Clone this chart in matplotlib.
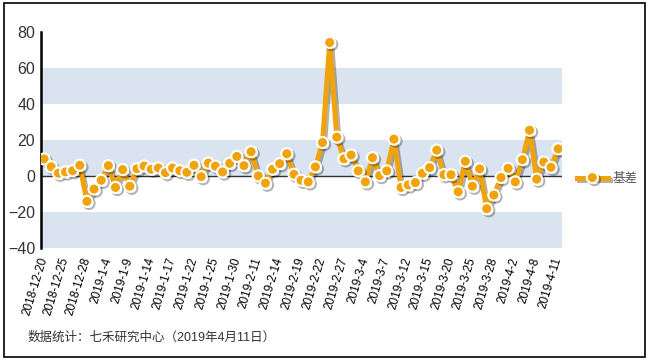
import numpy as np
import matplotlib.pyplot as plt
import matplotlib.patheffects as pe
from matplotlib.patches import Rectangle

plt.rcParams['font.family'] = ['Liberation Sans', 'Noto Sans CJK SC', 'DejaVu Sans']

# basis values, one per trading day 2018-12-20 .. 2019-4-11
basis = [9.4, 5.1, 1.5, 2.2, 2.9, 5.9, -14.1, -7.3, -2.4, 5.7,
         -6.4, 3.5, -5.7, 4.0, 5.5, 3.7, 4.4, 1.8, 4.4, 2.9,
         2.0, 5.9, -0.4, 7.1, 5.4, 2.2, 7.0, 10.8, 5.7, 13.4,
         0.0, -4.0, 3.7, 6.8, 12.3, 0.9, -2.4, -3.3, 5.0, 18.5,
         74.0, 21.5, 9.5, 11.6, 2.8, -3.3, 10.1, 0.2, 2.8, 20.4,
         -6.4, -5.0, -3.7, 1.5, 4.6, 14.3, 0.7, 0.7, -8.8, 8.1,
         -5.7, 3.9, -18.2, -10.6, -0.9, 4.2, -3.3, 9.0, 25.3, -1.8,
         7.7, 4.8, 15.0]

tick_labels = ['2018-12-20', '2018-12-25', '2018-12-28', '2019-1-4', '2019-1-9',
               '2019-1-14', '2019-1-17', '2019-1-22', '2019-1-25', '2019-1-30',
               '2019-2-11', '2019-2-14', '2019-2-19', '2019-2-22', '2019-2-27',
               '2019-3-4', '2019-3-7', '2019-3-12', '2019-3-15', '2019-3-20',
               '2019-3-25', '2019-3-28', '2019-4-2', '2019-4-8', '2019-4-11']

series_name = '基差'
source_note = '数据统计：七禾研究中心（2019年4月11日）'

orange = '#f0a30a'
band = '#d9e4f0'

fig = plt.figure(figsize=(6.49, 3.6), dpi=100)
ax = fig.add_axes([0.063, 0.311, 0.803, 0.601])

x = np.arange(len(basis))

# alternating bands
for lo in (40, 0, -40):
    ax.axhspan(lo, lo + 20, color=band, lw=0, zorder=0)
ax.axhline(0, color='#333333', lw=1, zorder=1)

ax.plot(x, basis, color=orange, lw=3.6, marker='o', ms=8,
        mfc=orange, mec='white', mew=1.5, label=series_name, zorder=3,
        path_effects=[pe.SimpleLineShadow(offset=(1.5, -1.5), alpha=0.3), pe.Normal()])

ax.set_xlim(-0.45, 72.55)
ax.set_ylim(-40, 80)
ax.set_yticks([-40, -20, 0, 20, 40, 60, 80])
ax.tick_params(axis='y', length=0, pad=4, labelsize=11.5, labelcolor='#333333')

ax.set_xticks(x[::3])
ax.set_xticklabels(tick_labels, rotation=73, ha='right', va='center',
                   rotation_mode='anchor', fontsize=8.5, color='black')
ax.tick_params(axis='x', length=0, pad=7)

for s in ('top', 'right', 'bottom'):
    ax.spines[s].set_visible(False)
ax.spines['left'].set_linewidth(1.8)
ax.spines['left'].set_color('black')

ax.legend(loc='center left', bbox_to_anchor=(0.879, 0.503), bbox_transform=fig.transFigure,
          frameon=False, borderpad=0, handlelength=2.5, handletextpad=0.4,
          prop={'size': 9}, labelcolor='#555555')

fig.text(0.042, 0.062, source_note, fontsize=9, color='#333333', va='center')

fig.patches.append(Rectangle((0.006, 0.008), 0.988, 0.984, transform=fig.transFigure,
                             fill=False, ec='black', lw=1.2))

fig.savefig('out.png', dpi=100)
